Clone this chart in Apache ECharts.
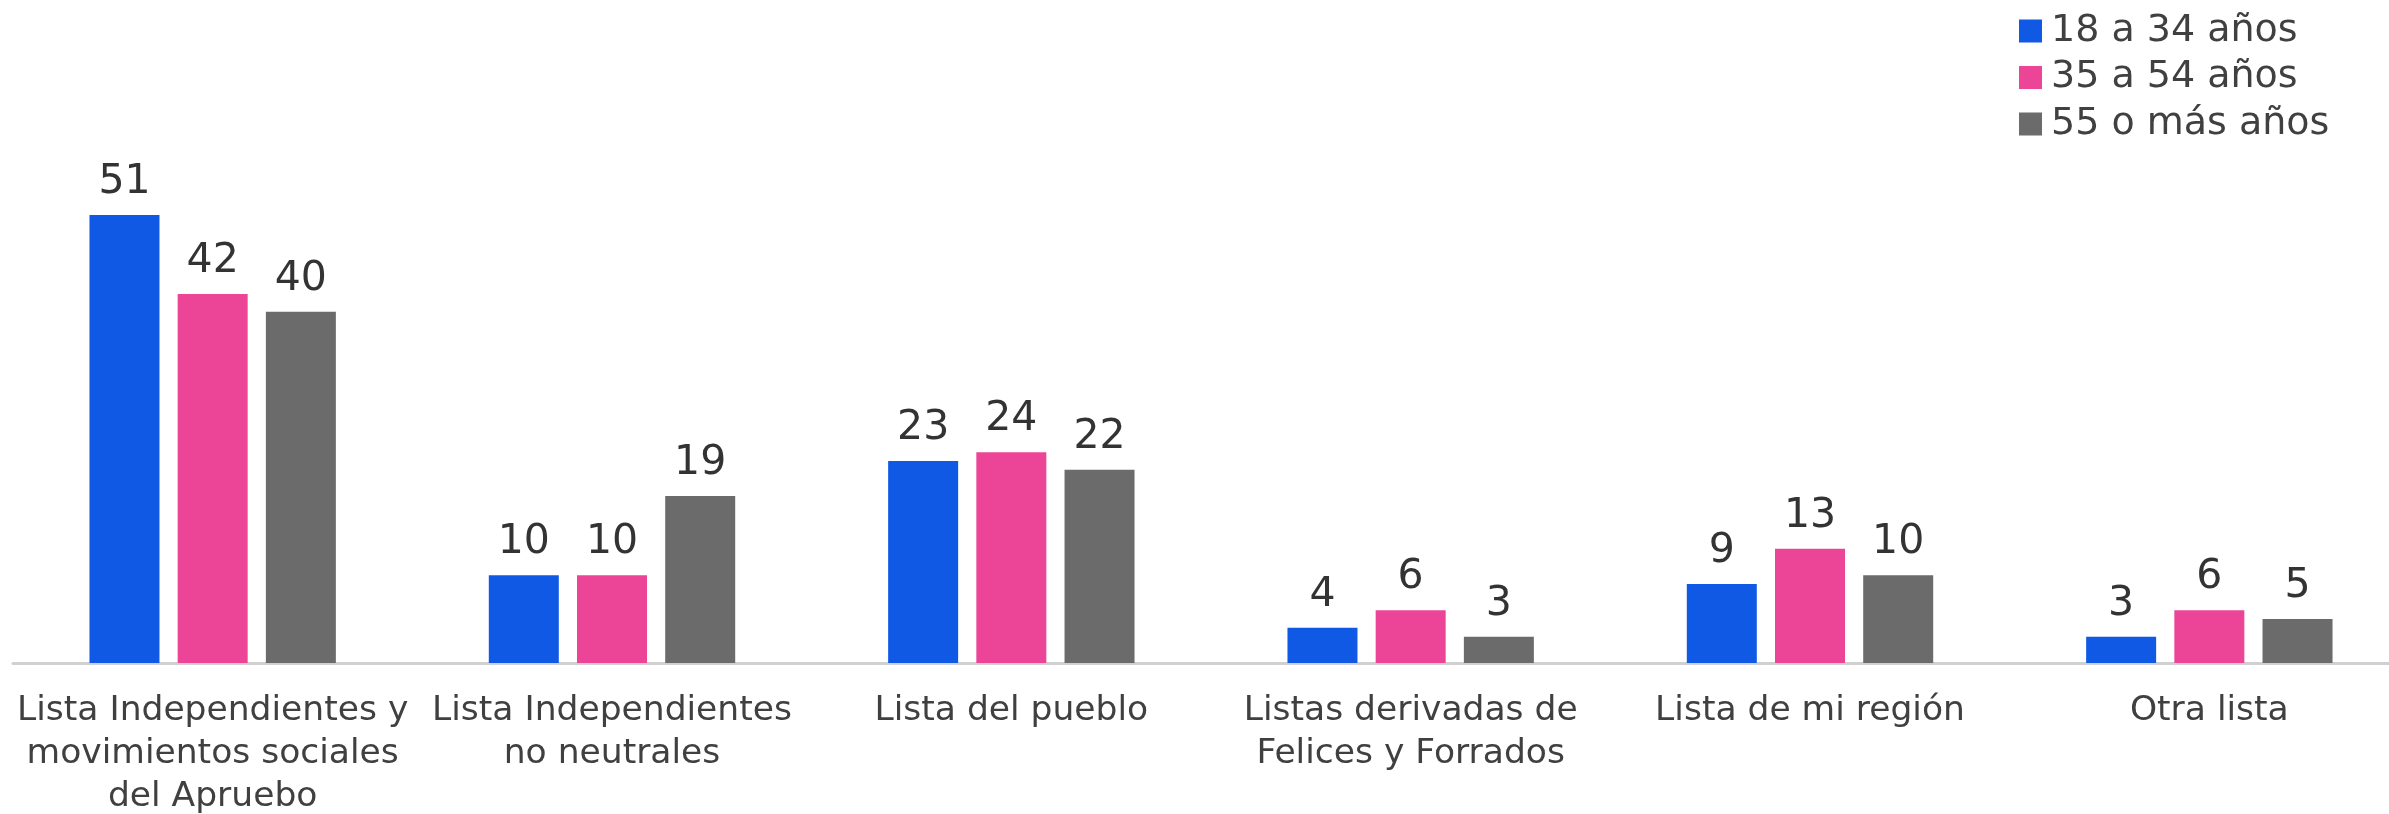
<!DOCTYPE html>
<html>
<head>
<meta charset="utf-8">
<script src="https://cdn.jsdelivr.net/npm/echarts@6/dist/echarts.min.js"></script>
<style>
html,body{margin:0;padding:0;background:#fff;}
#chart{width:2389px;height:814px;}
</style>
</head>
<body>
<div id="chart"></div>
<script>
const categories = [
  "Lista Independientes y\nmovimientos sociales\ndel Apruebo",
  "Lista Independientes\nno neutrales",
  "Lista del pueblo",
  "Listas derivadas de\nFelices y Forrados",
  "Lista de mi región",
  "Otra lista"
];
const seriesNames = ["18 a 34 años", "35 a 54 años", "55 o más años"];
const age18to34 = [51, 10, 23, 4, 9, 3];
const age35to54 = [42, 10, 24, 6, 13, 6];
const age55plus = [40, 19, 22, 3, 10, 5];
const colors = ["#0F59E4", "#EC4497", "#6B6B6B"];

const FONT = '"DejaVu Sans"';
const chart = echarts.init(document.getElementById('chart'), null, {renderer: 'canvas'});
const labelStyle = {
  show: true,
  position: 'top',
  distance: 12,
  fontFamily: FONT,
  fontSize: 41,
  color: '#333333'
};
const dataSets = [age18to34, age35to54, age55plus];
chart.setOption({
  animation: false,
  backgroundColor: '#ffffff',
  color: colors,
  legend: {
    orient: 'vertical',
    left: 2019,
    top: 11,
    padding: 0,
    itemWidth: 23,
    itemHeight: 23,
    itemGap: 6.5,
    icon: 'rect',
    textStyle: {fontFamily: FONT, fontSize: 38, color: '#404040', lineHeight: 40, padding: [0, 0, 0, 4]},
    data: seriesNames
  },
  grid: {left: 13, width: 2396, top: 136, bottom: 151, containLabel: false, outerBoundsMode: 'none'},
  xAxis: {
    type: 'category',
    data: categories,
    axisLine: {show: true, lineStyle: {color: '#D0D0D0', width: 3}},
    axisTick: {show: false},
    axisLabel: {
      interval: 0,
      margin: 27,
      fontFamily: FONT,
      fontSize: 34.5,
      lineHeight: 43,
      color: '#404040'
    }
  },
  yAxis: {
    type: 'value',
    min: 0,
    max: 60,
    show: false,
    splitLine: {show: false}
  },
  series: seriesNames.map((name, i) => ({
    name: name,
    type: 'bar',
    data: dataSets[i],
    barWidth: 70,
    barGap: '26%',
    itemStyle: {color: colors[i]},
    label: labelStyle
  }))
});
</script>
</body>
</html>
